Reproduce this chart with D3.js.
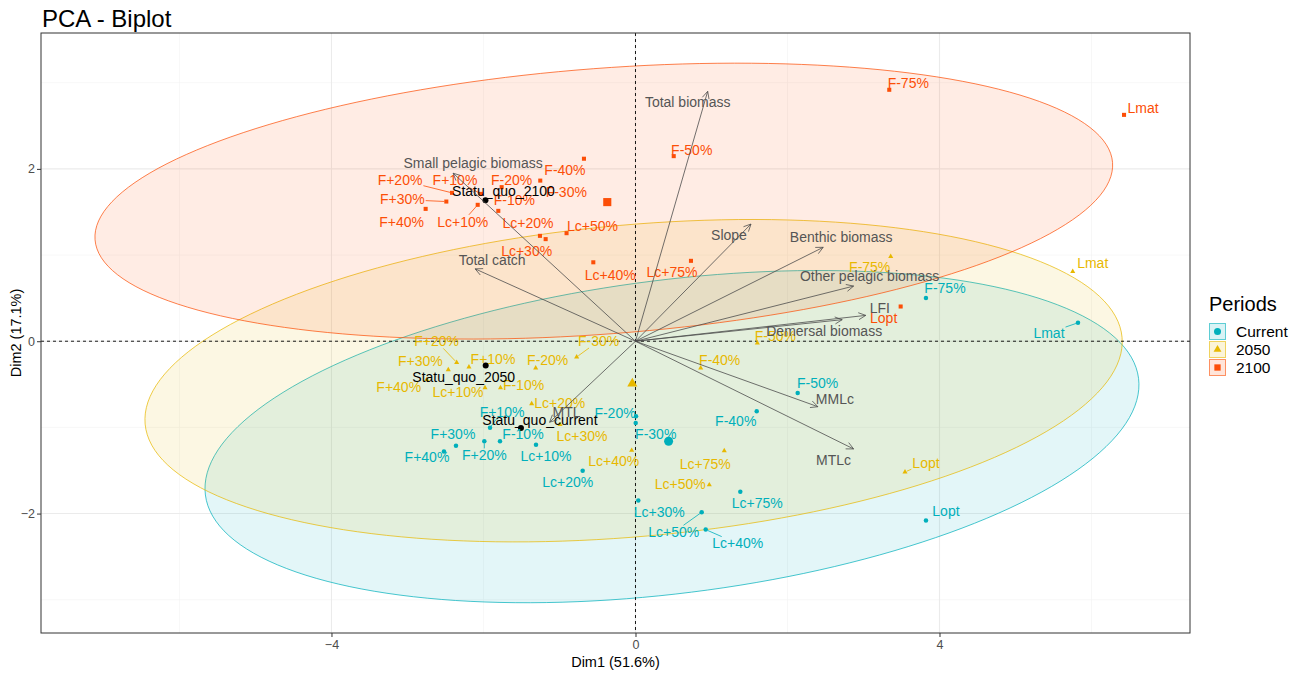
<!DOCTYPE html>
<html>
<head>
<meta charset="utf-8">
<script src="https://cdn.jsdelivr.net/npm/d3@7"></script>
<style>
body { margin: 0; background: #fff; }
text { font-family: "Liberation Sans", Arial, sans-serif; }
</style>
</head>
<body>
<div id="content"></div>
<script>
// ---- data ----
var periods = ["Current", "2050", "2100"];
var periodColors = ["#00AFBB", "#E7B800", "#FC4E07"];

var scenarios = ["F-75%", "F-50%", "F-40%", "F-30%", "F-20%", "F-10%", "F+10%", "F+20%", "F+30%", "F+40%",
    "Lc+10%", "Lc+20%", "Lc+30%", "Lc+40%", "Lc+50%", "Lc+75%", "Lmat", "Lopt"];

var dim1Current = [3.822, 2.134, 1.595, 0.003, 0.007, -1.783, -1.914, -1.989, -2.362, -2.520,
    -1.309, -0.695, 0.037, 0.924, 0.871, 1.379, 5.822, 3.822];
var dim2Current = [0.501, -0.601, -0.814, -0.948, -0.872, -1.162, -1.003, -1.162, -1.212, -1.281,
    -1.200, -1.502, -1.849, -2.186, -1.985, -1.748, 0.214, -2.081];

var dim1_2050 = [3.358, 1.603, 0.858, -0.774, -1.313, -1.776, -2.191, -2.353, -2.463, -2.747,
    -1.980, -1.366, -0.993, -0.050, 0.971, 1.168, 5.753, 3.546];
var dim2_2050 = [0.983, -0.021, -0.311, -0.183, -0.311, -0.539, -0.299, -0.246, -0.330, -0.446,
    -0.539, -0.725, -0.968, -1.266, -1.667, -1.270, 0.809, -1.517];

var dim1_2100 = [3.339, 0.503, -0.678, -1.253, -1.761, -1.805, -2.033, -2.414, -2.489, -2.761,
    -2.076, -1.257, -1.182, -0.555, -0.907, 0.730, 6.428, 3.489];
var dim2_2100 = [2.918, 2.148, 2.118, 1.864, 1.788, 1.513, 1.710, 1.722, 1.621, 1.536,
    1.583, 1.223, 1.185, 0.916, 1.254, 0.933, 2.627, 0.403];

var statuQuoNames = ["Statu_quo_current", "Statu_quo_2050", "Statu_quo_2100"];
var statuQuoDim1 = [-1.507, -1.971, -1.974];
var statuQuoDim2 = [-1.006, -0.281, 1.635];

var variables = ["Total biomass", "Small pelagic biomass", "Slope", "Benthic biomass", "Other pelagic biomass",
    "LFI", "Demersal biomass", "MMLc", "MTLc", "Total catch", "MTL"];
var varDim1 = [0.95, -2.40, 1.52, 2.47, 2.87, 3.03, 2.72, 2.40, 2.87, -2.11, -1.13];
var varDim2 = [2.90, 1.95, 1.36, 1.09, 0.64, 0.30, 0.25, -0.76, -1.25, 0.84, -0.94];

// ellipse per period: centre and two conjugate semi-axes (Dim1, Dim2 units)
var ellipseCentre = [[0.480, -1.107], [-0.025, -0.458], [-0.417, 1.626]];
var ellipseAxisU = [[6.139, 0.677], [6.427, 0.503], [6.694, 0.448]];
var ellipseAxisV = [[-0.256, 1.805], [-0.181, 1.802], [-0.132, 1.537]];

var xTicks = [-4, 0, 4];
var yTicks = [-2, 0, 2];

// ---- label placement (pixel nudges, like ggrepel result) ----
var labelNudge = [
    [[19,-10],[20,-10],[-21,10],[20,11],[-21,-3],[23,-7],[12,-16],[0,14],[-3,-12],[-17,5],
     [10,11],[-15,11],[21,12],[32,14],[-28,20],[17,11],[-29,10],[20,-9]],
    [[-21,11],[18,-7],[19,-8],[22,-16],[12,-8],[23,-3],[24,-8],[-20,-21],[-28,-9],[-28,7],
     [-27,4],[28,-1],[22,11],[-18,11],[-29,-1],[-19,13],[20,-8],[21,-9]],
    [[19,-7],[18,-6],[-19,11],[26,11],[10,-7],[16,-11],[-26,-14],[-52,-13],[-44,-2],[-24,13],
     [-15,17],[-12,-13],[-19,12],[17,13],[26,-7],[-19,11],[19,-7],[-17,12]]
];
var statuQuoNudge = [[19,-8],[-22,12],[18,-9]];
var varNudge = [[-20,11],[20,-10],[-22,11],[18,-10],[16,-10],[14,-7],[-18,11],[17,-8],[-20,11],[17,-9],[17,-10]];

var width = 1304, height = 673;
var panel = { left: 41, top: 33, right: 1190, bottom: 633 };

var svg = d3.select("#content").append("svg")
    .attr("width", width)
    .attr("height", height);

var x = d3.scaleLinear().domain([-7.822, 7.296]).range([panel.left, panel.right]);
var y = d3.scaleLinear().domain([-3.386, 3.577]).range([panel.bottom, panel.top]);

var dims = [[dim1Current, dim2Current], [dim1_2050, dim2_2050], [dim1_2100, dim2_2100]];

// grid
var g = svg.append("g");
var xMinor = [-6, -2, 2, 6], yMinor = [-3, -1, 1, 3];
g.selectAll(".xminor").data(xMinor).enter().append("line")
    .attr("x1", d => x(d)).attr("x2", d => x(d)).attr("y1", panel.top).attr("y2", panel.bottom)
    .attr("stroke", "#f2f2f2").attr("stroke-width", 0.6);
g.selectAll(".yminor").data(yMinor).enter().append("line")
    .attr("y1", d => y(d)).attr("y2", d => y(d)).attr("x1", panel.left).attr("x2", panel.right)
    .attr("stroke", "#f2f2f2").attr("stroke-width", 0.6);
g.selectAll(".xmajor").data(xTicks).enter().append("line")
    .attr("x1", d => x(d)).attr("x2", d => x(d)).attr("y1", panel.top).attr("y2", panel.bottom)
    .attr("stroke", "#ebebeb").attr("stroke-width", 1.1);
g.selectAll(".ymajor").data(yTicks).enter().append("line")
    .attr("y1", d => y(d)).attr("y2", d => y(d)).attr("x1", panel.left).attr("x2", panel.right)
    .attr("stroke", "#ebebeb").attr("stroke-width", 1.1);

// ellipses
periods.forEach(function (p, i) {
    var c = ellipseCentre[i], u = ellipseAxisU[i], v = ellipseAxisV[i];
    var pts = d3.range(0, 361, 2).map(function (deg) {
        var t = deg * Math.PI / 180;
        return [x(c[0] + u[0] * Math.cos(t) + v[0] * Math.sin(t)),
                y(c[1] + u[1] * Math.cos(t) + v[1] * Math.sin(t))];
    });
    g.append("path")
        .attr("d", d3.line()(pts) + "Z")
        .attr("fill", periodColors[i])
        .attr("fill-opacity", 0.11)
        .attr("stroke", periodColors[i])
        .attr("stroke-opacity", 0.8)
        .attr("stroke-width", 0.9);
});

// zero lines
g.append("line").attr("x1", x(0)).attr("x2", x(0)).attr("y1", panel.top).attr("y2", panel.bottom)
    .attr("stroke", "#000").attr("stroke-dasharray", "3,3").attr("stroke-width", 0.9);
g.append("line").attr("y1", y(0)).attr("y2", y(0)).attr("x1", panel.left).attr("x2", panel.right)
    .attr("stroke", "#000").attr("stroke-dasharray", "3,3").attr("stroke-width", 0.9);

function marker(sel, i, s) {
    if (i === 0) {
        sel.append("circle").attr("r", s * 0.5).attr("fill", periodColors[i]);
    } else if (i === 1) {
        sel.append("path").attr("d", d3.symbol(d3.symbolTriangle, s * s * 0.55)()).attr("fill", periodColors[i]);
    } else {
        sel.append("rect").attr("x", -s * 0.45).attr("y", -s * 0.45).attr("width", s * 0.9).attr("height", s * 0.9)
            .attr("fill", periodColors[i]);
    }
}

// points and group means
periods.forEach(function (p, i) {
    var xs = dims[i][0], ys = dims[i][1];
    scenarios.forEach(function (s, j) {
        marker(g.append("g").attr("transform", `translate(${x(xs[j])},${y(ys[j])})`), i, 4.5);
    });
    marker(g.append("g").attr("transform", `translate(${x(d3.mean(xs))},${y(d3.mean(ys))})`), i, 9);
});

statuQuoNames.forEach(function (n, i) {
    g.append("circle").attr("cx", x(statuQuoDim1[i])).attr("cy", y(statuQuoDim2[i])).attr("r", 3).attr("fill", "#000");
});

// labels with repel-like segments
function addLabel(px, py, nudge, text, color) {
    var lx = px + nudge[0], ly = py + nudge[1];
    var t = g.append("text")
        .attr("x", lx).attr("y", ly).attr("dy", "0.35em")
        .attr("text-anchor", "middle")
        .attr("font-size", 14)
        .attr("fill", color)
        .text(text);
    var w = t.node().getComputedTextLength() / 2 + 1, h = 7;
    var dx = px - lx, dy = py - ly;
    if (Math.abs(dx) > w + 6 || Math.abs(dy) > h + 6) {
        var k = Math.min(w / Math.abs(dx || 1e-6), h / Math.abs(dy || 1e-6));
        var ex = lx + dx * k, ey = ly + dy * k;
        var len = Math.hypot(px - ex, py - ey);
        if (len > 5) {
            g.insert("line", "text")
                .attr("x1", px - (px - ex) * 2 / len).attr("y1", py - (py - ey) * 2 / len)
                .attr("x2", ex).attr("y2", ey)
                .attr("stroke", color).attr("stroke-width", 0.8);
        }
    }
}

periods.forEach(function (p, i) {
    var xs = dims[i][0], ys = dims[i][1];
    scenarios.forEach(function (s, j) {
        addLabel(x(xs[j]), y(ys[j]), labelNudge[i][j], s, periodColors[i]);
    });
});
statuQuoNames.forEach(function (n, i) {
    addLabel(x(statuQuoDim1[i]), y(statuQuoDim2[i]), statuQuoNudge[i], n, "#000");
});

// variable arrows
variables.forEach(function (v, i) {
    var x0 = x(0), y0 = y(0), x1 = x(varDim1[i]), y1 = y(varDim2[i]);
    var a = Math.atan2(y1 - y0, x1 - x0), L = 8, spread = 0.45;
    g.append("path")
        .attr("d", `M${x0},${y0}L${x1},${y1}` +
            `M${x1 - L * Math.cos(a - spread)},${y1 - L * Math.sin(a - spread)}L${x1},${y1}` +
            `L${x1 - L * Math.cos(a + spread)},${y1 - L * Math.sin(a + spread)}`)
        .attr("fill", "none")
        .attr("stroke", "#4d4d4d")
        .attr("stroke-width", 0.8);
    g.append("text")
        .attr("x", x1 + varNudge[i][0]).attr("y", y1 + varNudge[i][1]).attr("dy", "0.35em")
        .attr("text-anchor", "middle")
        .attr("font-size", 14)
        .attr("fill", "#555")
        .text(v);
});

// panel border
svg.append("rect")
    .attr("x", panel.left).attr("y", panel.top)
    .attr("width", panel.right - panel.left).attr("height", panel.bottom - panel.top)
    .attr("fill", "none").attr("stroke", "#333").attr("stroke-width", 1);

// axes
var xAxis = svg.append("g").attr("transform", `translate(0,${panel.bottom})`)
    .call(d3.axisBottom(x).tickValues(xTicks).tickSize(4).tickFormat(d3.format("d")));
var yAxis = svg.append("g").attr("transform", `translate(${panel.left},0)`)
    .call(d3.axisLeft(y).tickValues(yTicks).tickSize(4).tickFormat(d3.format("d")));
[xAxis, yAxis].forEach(function (ax) {
    ax.select(".domain").remove();
    ax.selectAll("line").attr("stroke", "#333");
    ax.selectAll("text").attr("fill", "#4d4d4d").attr("font-size", 12.5)
        .style("font-family", '"Liberation Sans", Arial, sans-serif');
});
xAxis.selectAll("text").attr("y", 7);
yAxis.selectAll("text").attr("x", -6);

svg.append("text").attr("x", (panel.left + panel.right) / 2).attr("y", 667)
    .attr("text-anchor", "middle").attr("font-size", 14.5).attr("fill", "#000")
    .text("Dim1 (51.6%)");
svg.append("text").attr("transform", `translate(21,${(panel.top + panel.bottom) / 2}) rotate(-90)`)
    .attr("text-anchor", "middle").attr("font-size", 14.5).attr("fill", "#000")
    .text("Dim2 (17.1%)");

svg.append("text").attr("x", 42).attr("y", 27)
    .attr("font-size", 24).attr("fill", "#000")
    .text("PCA - Biplot");

// legend
var legend = svg.append("g").attr("transform", "translate(1209,0)");
legend.append("text").attr("x", 0).attr("y", 311).attr("font-size", 20).attr("fill", "#000").text("Periods");
var item = legend.selectAll(".legend-item")
    .data(periods)
    .enter()
    .append("g")
    .attr("class", "legend-item")
    .attr("transform", (d, i) => `translate(0, ${323 + i * 18})`);
item.append("rect")
    .attr("x", 0.5).attr("y", 0.5).attr("width", 16).attr("height", 16)
    .attr("fill", (d, i) => periodColors[i]).attr("fill-opacity", 0.15)
    .attr("stroke", (d, i) => periodColors[i]).attr("stroke-opacity", 0.6);
item.each(function (d, i) {
    marker(d3.select(this).append("g").attr("transform", "translate(8.5,8.5)"), i, 7);
});
item.append("text")
    .attr("x", 27).attr("y", 8.5).attr("dy", "0.35em")
    .attr("font-size", 15.5).attr("fill", "#000")
    .text(d => d);
</script>
</body>
</html>
